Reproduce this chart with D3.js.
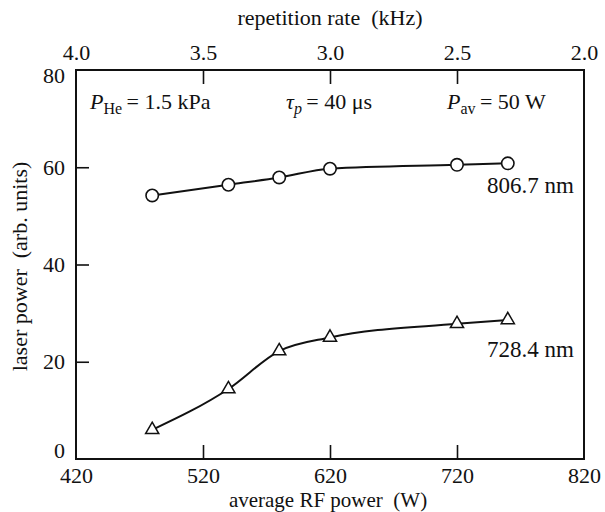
<!DOCTYPE html>
<html>
<head>
<meta charset="utf-8">
<script src="https://cdn.jsdelivr.net/npm/d3@7"></script>
<style>
  body { margin: 0; background: #fff; }
  svg text { font-family: "Liberation Serif", "DejaVu Serif", serif; fill: #111; }
</style>
</head>
<body>
<script>
// data
const rfPower = [480, 540, 580, 620, 720, 760];
const power806 = [54.2, 56.4, 57.9, 59.7, 60.5, 60.8];
const power728 = [6.0, 14.4, 22.2, 25.0, 27.8, 28.6];
const xTicks = [420, 520, 620, 720, 820];
const yTicks = [0, 20, 40, 60, 80];
const rateTicks = [4.0, 3.5, 3.0, 2.5, 2.0];

const width = 605, height = 512;
const box = {left: 76, right: 584, top: 70, bottom: 459};
const fontSize = 22;

const svg = d3.select("body").append("svg")
  .attr("width", width)
  .attr("height", height);

const x = d3.scaleLinear().domain([420, 820]).range([box.left, box.right]);
const y = d3.scaleLinear().domain([0, 80]).range([box.bottom, box.top]);
const rate = d3.scaleLinear().domain([4.0, 2.0]).range([box.left, box.right]);

// frame
svg.append("rect")
  .attr("x", box.left).attr("y", box.top)
  .attr("width", box.right - box.left).attr("height", box.bottom - box.top)
  .attr("fill", "none").attr("stroke", "#111").attr("stroke-width", 2);

// bottom labels
svg.append("g")
  .attr("transform", `translate(0,${box.bottom})`)
  .call(d3.axisBottom(x).tickValues(xTicks).tickSize(0).tickPadding(8).tickFormat(d3.format("d")));
// inward ticks
svg.append("g")
  .attr("transform", `translate(0,${box.bottom})`)
  .call(d3.axisTop(x).tickValues([520, 620, 720]).tickSize(14).tickFormat(""));

// top labels
svg.append("g")
  .attr("transform", `translate(0,${box.top})`)
  .call(d3.axisTop(rate).tickValues(rateTicks).tickSize(0).tickPadding(10).tickFormat(d3.format(".1f")));
svg.append("g")
  .attr("transform", `translate(0,${box.top})`)
  .call(d3.axisBottom(rate).tickValues([3.5, 3.0, 2.5]).tickSize(14).tickFormat(""));

// left labels
const yAxis = svg.append("g")
  .attr("transform", `translate(${box.left},0)`)
  .call(d3.axisLeft(y).tickValues(yTicks).tickSize(0).tickPadding(11));
yAxis.selectAll(".tick text").filter(d => d === 0).attr("dy", "-0.05em");
yAxis.selectAll(".tick text").filter(d => d === 80).attr("dy", "0.55em");
svg.append("g")
  .attr("transform", `translate(${box.left},0)`)
  .call(d3.axisRight(y).tickValues([20, 40, 60]).tickSize(13).tickFormat(""));

svg.selectAll(".domain").remove();
svg.selectAll(".tick line").attr("stroke", "#111").attr("stroke-width", 1.6);
svg.selectAll(".tick text")
  .style("font-family", '"Liberation Serif", serif')
  .attr("font-size", fontSize)
  .attr("fill", "#111");

// axis titles
svg.append("text")
  .attr("x", (box.left + box.right) / 2).attr("y", 25)
  .attr("text-anchor", "middle").attr("font-size", fontSize)
  .attr("xml:space", "preserve")
  .text("repetition rate  (kHz)");

svg.append("text")
  .attr("x", (box.left + box.right) / 2 - 2).attr("y", 507)
  .attr("text-anchor", "middle").attr("font-size", 21)
  .attr("xml:space", "preserve")
  .text("average RF power  (W)");

svg.append("text")
  .attr("transform", `translate(27,${(box.top + box.bottom) / 2 + 2}) rotate(-90)`)
  .attr("text-anchor", "middle").attr("font-size", fontSize)
  .attr("xml:space", "preserve")
  .text("laser power  (arb. units)");

// conditions
function labelWithSub(px, py, main, sub, rest, subItalic) {
  const t = svg.append("text").attr("x", px).attr("y", py).attr("font-size", fontSize);
  t.append("tspan").attr("font-style", "italic").text(main);
  t.append("tspan").attr("font-size", 16).attr("dy", 5)
    .attr("font-style", subItalic ? "italic" : "normal").text(sub);
  t.append("tspan").attr("dy", -5).text(rest);
}
labelWithSub(90, 109, "P", "He", "\u2009= 1.5 kPa", false);
labelWithSub(286, 109, "\u03c4", "p", "\u2009= 40 \u03bcs", true);
labelWithSub(447, 109, "P", "av", "\u2009= 50 W", false);

// curves
const line = d3.line()
  .x((d, i) => x(rfPower[i]))
  .y(d => y(d))
  .curve(d3.curveMonotoneX);

[power806, power728].forEach(series => {
  svg.append("path")
    .datum(series)
    .attr("d", line)
    .attr("fill", "none")
    .attr("stroke", "#111")
    .attr("stroke-width", 2);
});

// markers
svg.append("g").selectAll("circle")
  .data(power806)
  .join("circle")
  .attr("cx", (d, i) => x(rfPower[i]))
  .attr("cy", d => y(d))
  .attr("r", 6.2)
  .attr("fill", "#fff")
  .attr("stroke", "#111")
  .attr("stroke-width", 1.6);

const tri = d3.symbol().type(d3.symbolTriangle).size(75);
svg.append("g").selectAll("path")
  .data(power728)
  .join("path")
  .attr("transform", (d, i) => `translate(${x(rfPower[i])},${y(d)})`)
  .attr("d", tri)
  .attr("fill", "#fff")
  .attr("stroke", "#111")
  .attr("stroke-width", 1.5);

// series labels
svg.append("text")
  .attr("x", 574).attr("y", 193)
  .attr("text-anchor", "end").attr("font-size", 23)
  .text("806.7 nm");
svg.append("text")
  .attr("x", 574).attr("y", 357)
  .attr("text-anchor", "end").attr("font-size", 23)
  .text("728.4 nm");
</script>
</body>
</html>
